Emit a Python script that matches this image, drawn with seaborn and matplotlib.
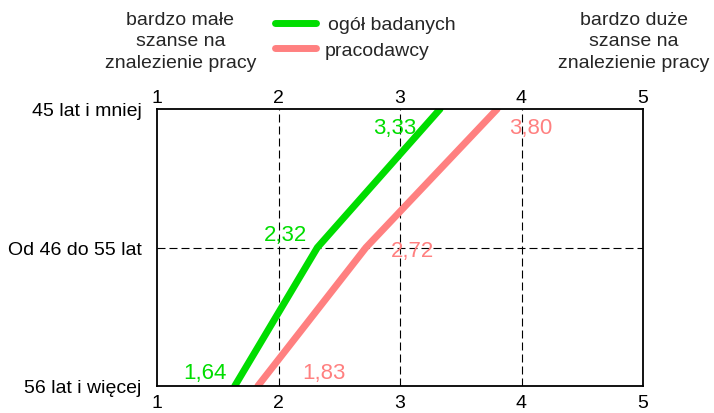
import matplotlib
matplotlib.use("Agg")
import matplotlib.pyplot as plt
import seaborn as sns
import pandas as pd

categories = ["45 lat i mniej", "Od 46 do 55 lat", "56 lat i więcej"]
series_names = ["ogół badanych", "pracodawcy"]
ogol = [3.33, 2.32, 1.64]
pracodawcy = [3.80, 2.72, 1.83]
x_ticks = [1, 2, 3, 4, 5]
colors = {"ogół badanych": "#00DD00", "pracodawcy": "#FF8080"}

sns.set_theme(style="white")
plt.rcParams["font.family"] = ["Liberation Sans", "DejaVu Sans"]

rows = []
for name, vals in zip(series_names, [ogol, pracodawcy]):
    for i, (c, v) in enumerate(zip(categories, vals)):
        rows.append({"series": name, "kategoria": c, "pos": i, "wartosc": v})
df = pd.DataFrame(rows)

W, H = 714, 414
fig = plt.figure(figsize=(W / 100, H / 100), dpi=100)
L, R, T, B = 157, 643, 110, 387
ax = fig.add_axes([L / W, 1 - B / H, (R - L) / W, (B - T) / H])

sns.lineplot(data=df, x="wartosc", y="pos", hue="series", palette=colors,
             sort=False, estimator=None, linewidth=5, ax=ax, legend=False,
             solid_capstyle="round")

ax.set_xlim(1, 5)
ax.set_ylim(2, 0)
ax.set_xticks(x_ticks)
ax.set_xticklabels([str(t) for t in x_ticks])
ax.set_yticks(range(len(categories)))
ax.set_yticklabels(categories)
ax.set_xlabel("")
ax.set_ylabel("")
ax.tick_params(axis="x", which="both", length=0, labelsize=14, colors="black",
               top=False, labeltop=False, bottom=True, labelbottom=True, pad=6)
ax.tick_params(axis="y", length=0, labelsize=14, colors="black", pad=11)

sec = ax.secondary_xaxis("top")
sec.set_xticks(x_ticks)
sec.set_xticklabels([str(t) for t in x_ticks])
sec.tick_params(axis="x", length=0, labelsize=14, colors="black", pad=2)
sec.spines["top"].set_visible(False)

for xv in [2, 3, 4]:
    ax.axvline(xv, color="black", lw=0.8, ls=(0, (7.2, 3.6)), zorder=0)
ax.axhline(1, color="black", lw=0.8, ls=(0, (7.2, 3.6)), zorder=0)

for sp in ax.spines.values():
    sp.set_visible(True)
    sp.set_color("black")
    sp.set_linewidth(1.3)

def fmt(v):
    return f"{v:.2f}".replace(".", ",")

lab_fs = 16
offsets = {
    ("ogół badanych", 0): (-32.4, -13.0),
    ("pracodawcy", 0): (23.8, -13.0),
    ("ogół badanych", 1): (-22.7, 9.7),
    ("pracodawcy", 1): (33.8, -2.5),
    ("ogół badanych", 2): (-21.6, 9.4),
    ("pracodawcy", 2): (47.5, 9.4),
}
for name, vals in zip(series_names, [ogol, pracodawcy]):
    for i, v in enumerate(vals):
        ax.annotate(fmt(v), (v, i), xytext=offsets[(name, i)], textcoords="offset points",
                    color=colors[name], fontsize=lab_fs, ha="center", va="center")

# header texts
fig.text(180.5 / W, 1 - 42 / H, "bardzo małe\nszanse na\nznalezienie pracy",
         ha="center", va="center", fontsize=14, linespacing=1.35)
fig.text(634 / W, 1 - 42 / H, "bardzo duże\nszanse na\nznalezienie pracy",
         ha="center", va="center", fontsize=14, linespacing=1.35)

# legend
leg_y = [24, 49]
leg_tx = [328, 325]
for i, name in enumerate(series_names):
    y = 1 - leg_y[i] / H
    fig.add_artist(plt.Line2D([275 / W, 316 / W], [y, y], color=colors[name],
                              lw=5, solid_capstyle="round", transform=fig.transFigure))
    fig.text(leg_tx[i] / W, y - 2 / H, name, ha="left", va="center", fontsize=14)

fig.savefig("out.png", dpi=100)
